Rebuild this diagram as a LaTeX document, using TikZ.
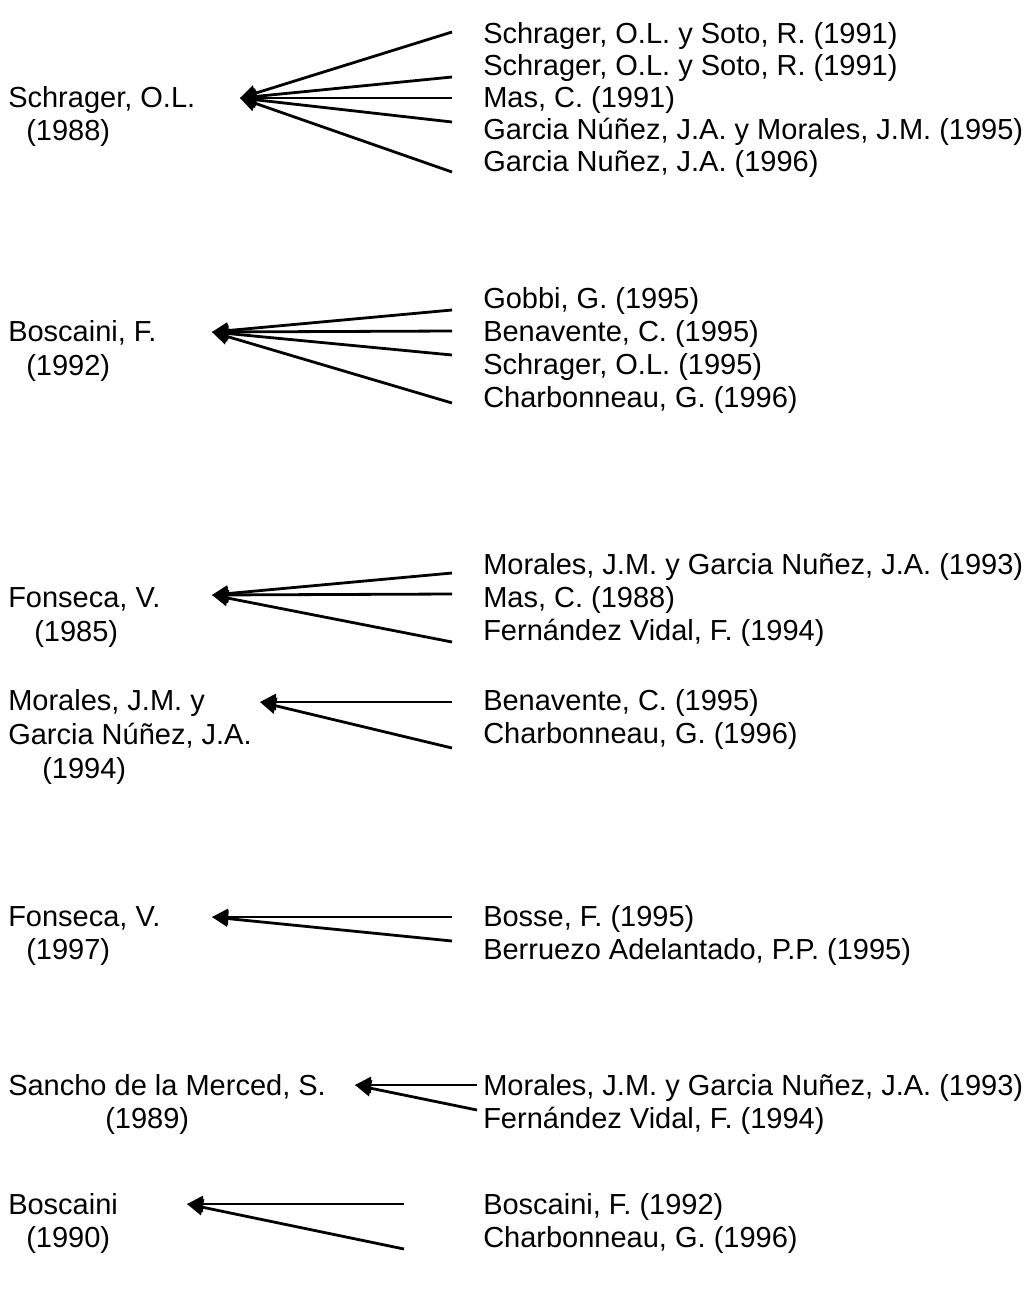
\documentclass[tikz,border=0pt]{standalone}
\usepackage{fontspec}
\setmainfont{Liberation Sans}
\usetikzlibrary{arrows.meta}
\tikzset{
  lbl/.style={anchor=base west,inner sep=0pt,font=\fontsize{21.75pt}{26pt}\selectfont},
  cite/.style={line width=2.1pt,-{Triangle[length=12pt,width=12pt]}}
}
\begin{document}
\begin{tikzpicture}[x=0.75pt,y=-0.75pt]
\useasboundingbox (0,0) rectangle (1029,1290);
% ---------- Block 1
\node[lbl] (a1) at (8,107) {Schrager, O.L.};
\node[lbl] (a2) at (26,140) {(1988)};
\node[lbl] (a3) at (483,43) {Schrager, O.L. y Soto, R. (1991)};
\node[lbl] (a4) at (483,75) {Schrager, O.L. y Soto, R. (1991)};
\node[lbl] (a5) at (483,107) {Mas, C. (1991)};
\node[lbl] (a6) at (483,139) {Garcia Núñez, J.A. y Morales, J.M. (1995)};
\node[lbl] (a7) at (483,171) {Garcia Nuñez, J.A. (1996)};
\coordinate (at) at (240,98);
\coordinate (ae1) at (452,32);
\coordinate (ae2) at (452,77);
\coordinate (ae3) at (452,98);
\coordinate (ae4) at (452,122);
\coordinate (ae5) at (452,172);
\foreach \e in {ae1,ae2,ae3,ae4,ae5} \draw[cite] (\e) -- (at);
% ---------- Block 2
\node[lbl] (b1) at (8,341) {Boscaini, F.};
\node[lbl] (b2) at (26,375) {(1992)};
\node[lbl] (b3) at (483,308) {Gobbi, G. (1995)};
\node[lbl] (b4) at (483,341) {Benavente, C. (1995)};
\node[lbl] (b5) at (483,374) {Schrager, O.L. (1995)};
\node[lbl] (b6) at (483,407) {Charbonneau, G. (1996)};
\coordinate (bt) at (212,332);
\coordinate (be1) at (452,310);
\coordinate (be2) at (452,331);
\coordinate (be3) at (452,355);
\coordinate (be4) at (452,403);
\foreach \e in {be1,be2,be3,be4} \draw[cite] (\e) -- (bt);
% ---------- Block 3
\node[lbl] (c1) at (8,607) {Fonseca, V.};
\node[lbl] (c2) at (34,641) {(1985)};
\node[lbl] (c3) at (483,574) {Morales, J.M. y Garcia Nuñez, J.A. (1993)};
\node[lbl] (c4) at (483,607) {Mas, C. (1988)};
\node[lbl] (c5) at (483,640) {Fernández Vidal, F. (1994)};
\coordinate (ct) at (212,595);
\coordinate (ce1) at (452,573);
\coordinate (ce2) at (452,594);
\coordinate (ce3) at (452,642);
\foreach \e in {ce1,ce2,ce3} \draw[cite] (\e) -- (ct);
% ---------- Block 4
\node[lbl] (d1) at (8,710) {Morales, J.M. y};
\node[lbl] (d2) at (8,744) {Garcia Núñez, J.A.};
\node[lbl] (d3) at (42,778) {(1994)};
\node[lbl] (d4) at (483,710) {Benavente, C. (1995)};
\node[lbl] (d5) at (483,743) {Charbonneau, G. (1996)};
\coordinate (dt) at (260,702);
\coordinate (de1) at (452,702);
\coordinate (de2) at (452,748);
\foreach \e in {de1,de2} \draw[cite] (\e) -- (dt);
% ---------- Block 5
\node[lbl] (e1) at (8,926) {Fonseca, V.};
\node[lbl] (e2) at (26,959) {(1997)};
\node[lbl] (e3) at (483,926) {Bosse, F. (1995)};
\node[lbl] (e4) at (483,959) {Berruezo Adelantado, P.P. (1995)};
\coordinate (et) at (212,917);
\coordinate (ee1) at (452,917);
\coordinate (ee2) at (452,941);
\foreach \e in {ee1,ee2} \draw[cite] (\e) -- (et);
% ---------- Block 6
\node[lbl] (f1) at (8,1095) {Sancho de la Merced, S.};
\node[lbl] (f2) at (105,1128) {(1989)};
\node[lbl] (f3) at (483,1095) {Morales, J.M. y Garcia Nuñez, J.A. (1993)};
\node[lbl] (f4) at (483,1128) {Fernández Vidal, F. (1994)};
\coordinate (ft) at (355,1085);
\coordinate (fe1) at (477,1085);
\coordinate (fe2) at (477,1110);
\foreach \e in {fe1,fe2} \draw[cite] (\e) -- (ft);
% ---------- Block 7
\node[lbl] (g1) at (8,1214) {Boscaini};
\node[lbl] (g2) at (26,1247) {(1990)};
\node[lbl] (g3) at (483,1214) {Boscaini, F. (1992)};
\node[lbl] (g4) at (483,1247) {Charbonneau, G. (1996)};
\coordinate (gt) at (187,1204);
\coordinate (ge1) at (404,1204);
\coordinate (ge2) at (404,1249);
\foreach \e in {ge1,ge2} \draw[cite] (\e) -- (gt);
\end{tikzpicture}
\end{document}
